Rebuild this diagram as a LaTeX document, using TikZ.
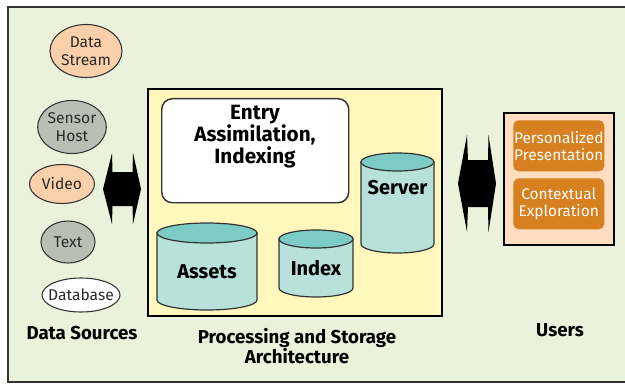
\documentclass[tikz,border=0pt]{standalone}
\usepackage{fontspec}
\setmainfont{Fira Sans}
\usetikzlibrary{shapes.geometric}
\definecolor{bgc}{HTML}{EAF2DC}
\definecolor{framec}{HTML}{333333}
\definecolor{procc}{HTML}{FFF7BC}
\definecolor{peachc}{HTML}{F9D0AA}
\definecolor{grayc}{HTML}{B8BFB3}
\definecolor{cylside}{HTML}{B9E1DC}
\definecolor{cyltop}{HTML}{7CCBC5}
\definecolor{usersc}{HTML}{FEDDC1}
\definecolor{orangec}{HTML}{D6801F}
\definecolor{txtc}{HTML}{2A2A2A}
\newcommand{\cylshape}[5]{%
  \filldraw[cylline, fill=cylside] ({#1-#2},#3) -- ({#1-#2},#4) arc[start angle=180,end angle=0,x radius=#2,y radius=#5] -- ({#1+#2},#3) -- cycle;
  \filldraw[cylline, fill=cyltop] (#1,#3) ellipse[x radius=#2, y radius=#5];}
\begin{document}
\begin{tikzpicture}[x=0.75pt,y=-0.75pt,
  src/.style={ellipse, draw=framec, line width=0.8pt, inner sep=0pt, text=txtc,
     align=center, font=\fontsize{11.7}{13.5}\selectfont},
  cylline/.style={draw=framec, line width=0.9pt},
  cyltext/.style={font=\bfseries\fontsize{15}{16}\selectfont, text=black},
  biglabel/.style={font=\bfseries\fontsize{14}{15}\selectfont, align=center, text=black},
  obox/.style={draw=none, fill=orangec, rounded corners=4pt, minimum width=68.25pt,
     minimum height=38.25pt, anchor=north west, text=white, align=center,
     font=\fontsize{11.6}{13}\selectfont, inner sep=0pt},
  arrowfill/.style={fill=black}]
\useasboundingbox (0,0) rectangle (625,385);
\fill[white] (0,0) rectangle (625,385);
\fill[bgc] (8,7) rectangle (625,382);
\draw[framec, line width=1.1pt] (625,7) -- (8,7) -- (8,382) -- (625,382);

% data sources
\node[src, fill=peachc, minimum width=54pt, minimum height=39.75pt] (ds) at (86,51) {Data\\Stream};
\node[src, fill=grayc, minimum width=47.25pt, minimum height=39.75pt] (sh) at (72,127) {Sensor\\Host};
\node[src, fill=peachc, minimum width=48.75pt, minimum height=29.25pt] (vid) at (62,184) {Video};
\node[src, fill=grayc, minimum width=40.5pt, minimum height=31.5pt] (txt) at (68,242) {Text};
\node[src, fill=white, minimum width=58.5pt, minimum height=25.5pt] (db) at (81,295) {\makebox[0pt]{Database}};
\node[biglabel] (dsl) at (82,333) {Data Sources};

% left double arrow
\fill[arrowfill] (103,189) -- (112,153) -- (112.5,172) -- (132.5,172) -- (133,153) -- (141,189)
  -- (133,224) -- (132.5,206) -- (112.5,206) -- (112,224) -- cycle;

% processing box
\node[draw=black, line width=1.6pt, fill=procc, minimum width=220.5pt, minimum height=170.25pt,
  anchor=north west, inner sep=0pt] (proc) at (147,88) {};
\node[draw=framec, line width=1.1pt, fill=white, rounded corners=8pt, minimum width=140.25pt,
  minimum height=78pt, anchor=north west, inner sep=0pt] (entrybox) at (161,98) {};
\node[cyltext, align=center, font=\bfseries\fontsize{15.5}{16.5}\selectfont] (entry) at (255,137) {Entry\\Assimilation,\\Indexing};

\cylshape{207}{50}{233}{300}{10}
\node[cyltext] (assets) at (207,272) {Assets};
\cylshape{316}{37}{239}{288}{9}
\node[cyltext] (index) at (316,268) {Index};
\cylshape{397.5}{36.5}{162}{244}{9}
\node[cyltext] (server) at (397.5,188) {Server};

\node[biglabel] (procl) at (297,346) {Processing and Storage\\Architecture};

% right double arrow
\fill[arrowfill] (458,183.5) -- (467,135) -- (468,160) -- (488,160) -- (488.5,135) -- (496,183.5)
  -- (488.5,232) -- (488,207) -- (468,207) -- (467,232) -- cycle;

% users
\node[draw=black, line width=1.6pt, fill=usersc, minimum width=82.5pt, minimum height=99pt,
  anchor=north west, inner sep=0pt] (users) at (503,112) {};
\node[obox] (pers) at (513,120) {Personalized\\Presentation};
\node[obox] (ctx) at (513,178) {Contextual\\Exploration};
\node[biglabel] (usersl) at (560,330) {Users};
\end{tikzpicture}
\end{document}
